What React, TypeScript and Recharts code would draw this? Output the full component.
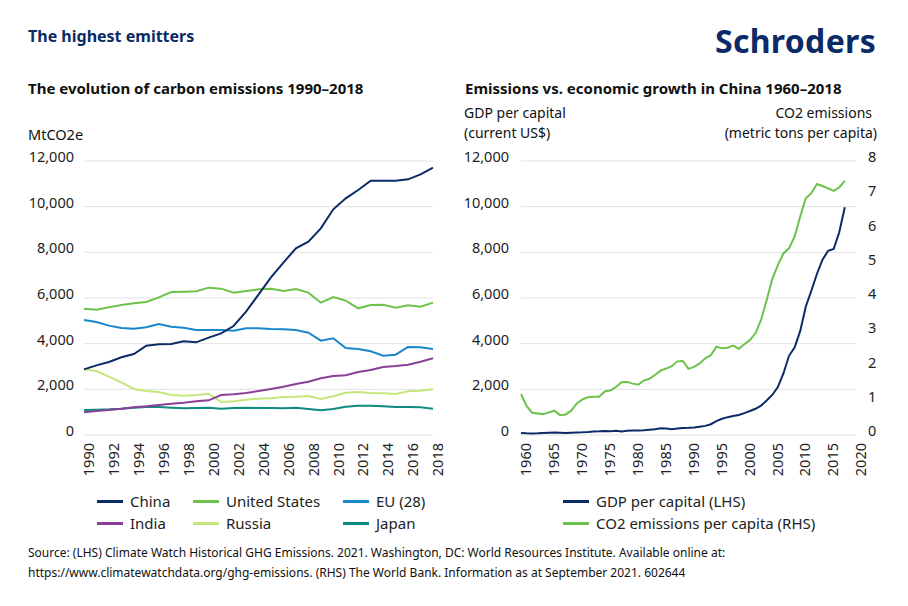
import { LineChart, Line, XAxis, YAxis, CartesianGrid } from 'recharts';

// Left chart: total emissions by country, MtCO2e
const years = [1990, 1991, 1992, 1993, 1994, 1995, 1996, 1997, 1998, 1999, 2000, 2001, 2002, 2003, 2004, 2005, 2006, 2007, 2008, 2009, 2010, 2011, 2012, 2013, 2014, 2015, 2016, 2017, 2018];
const china = [2876, 3051, 3197, 3402, 3548, 3913, 3971, 3986, 4103, 4059, 4263, 4453, 4774, 5402, 6150, 6900, 7550, 8176, 8468, 9052, 9884, 10366, 10731, 11140, 11140, 11140, 11198, 11417, 11709];
const unitedStates = [5533, 5489, 5591, 5694, 5767, 5825, 6030, 6263, 6278, 6293, 6453, 6409, 6234, 6307, 6380, 6409, 6307, 6395, 6234, 5796, 6044, 5884, 5548, 5694, 5708, 5577, 5679, 5621, 5796];
const eu28 = [5037, 4949, 4789, 4687, 4658, 4716, 4862, 4745, 4701, 4599, 4599, 4599, 4570, 4672, 4672, 4643, 4628, 4599, 4482, 4132, 4234, 3811, 3767, 3665, 3475, 3519, 3855, 3840, 3767];
const india = [993, 1051, 1095, 1153, 1212, 1256, 1314, 1372, 1416, 1475, 1518, 1752, 1781, 1840, 1927, 2015, 2117, 2234, 2336, 2482, 2584, 2613, 2759, 2847, 2978, 3022, 3080, 3212, 3358];
const russia = [2876, 2803, 2555, 2307, 2015, 1927, 1883, 1752, 1723, 1752, 1810, 1445, 1475, 1548, 1592, 1606, 1664, 1679, 1708, 1577, 1694, 1854, 1883, 1840, 1825, 1796, 1913, 1942, 2000];
const japan = [1095, 1110, 1124, 1153, 1197, 1226, 1226, 1197, 1168, 1183, 1197, 1153, 1183, 1197, 1183, 1183, 1168, 1197, 1139, 1080, 1139, 1241, 1285, 1285, 1256, 1226, 1226, 1212, 1153];
const leftXTicks = [1990, 1992, 1994, 1996, 1998, 2000, 2002, 2004, 2006, 2008, 2010, 2012, 2014, 2016, 2018];
const emissionTicks = [0, 2000, 4000, 6000, 8000, 10000, 12000];

// Right chart: China GDP per capita (LHS) and CO2 per capita (RHS)
const chinaYears = [1960, 1961, 1962, 1963, 1964, 1965, 1966, 1967, 1968, 1969, 1970, 1971, 1972, 1973, 1974, 1975, 1976, 1977, 1978, 1979, 1980, 1981, 1982, 1983, 1984, 1985, 1986, 1987, 1988, 1989, 1990, 1991, 1992, 1993, 1994, 1995, 1996, 1997, 1998, 1999, 2000, 2001, 2002, 2003, 2004, 2005, 2006, 2007, 2008, 2009, 2010, 2011, 2012, 2013, 2014, 2015, 2016, 2017, 2018];
const gdpPerCapita = [90, 76, 70, 74, 85, 98, 104, 97, 91, 100, 113, 119, 132, 157, 160, 178, 165, 185, 156, 183, 195, 197, 203, 225, 250, 294, 281, 252, 284, 311, 318, 333, 366, 400, 473, 610, 709, 782, 829, 873, 959, 1053, 1149, 1289, 1509, 1753, 2099, 2694, 3468, 3832, 4550, 5618, 6317, 7051, 7679, 8067, 8148, 8879, 9977];
const co2PerCapita = [1.19, 0.85, 0.65, 0.63, 0.61, 0.66, 0.71, 0.58, 0.6, 0.71, 0.92, 1.04, 1.1, 1.12, 1.12, 1.27, 1.3, 1.4, 1.54, 1.55, 1.5, 1.47, 1.59, 1.64, 1.75, 1.88, 1.94, 2.01, 2.15, 2.16, 1.93, 1.99, 2.09, 2.24, 2.33, 2.58, 2.53, 2.55, 2.61, 2.52, 2.65, 2.77, 2.97, 3.36, 3.94, 4.55, 4.96, 5.3, 5.45, 5.79, 6.37, 6.91, 7.06, 7.33, 7.27, 7.2, 7.13, 7.23, 7.42];
const rightXTicks = [1960, 1965, 1970, 1975, 1980, 1985, 1990, 1995, 2000, 2005, 2010, 2015, 2020];
const gdpTicks = [0, 2000, 4000, 6000, 8000, 10000, 12000];
const co2Ticks = [0, 1, 2, 3, 4, 5, 6, 7, 8];

const NAVY = '#0b2b66';
const colors = {
  china: NAVY,
  us: '#6cc24a',
  eu: '#1a86cc',
  india: '#8b3f98',
  russia: '#c6e67c',
  japan: '#0f8a80',
};

const emissionsData = years.map((year, i) => ({
  year,
  china: china[i],
  us: unitedStates[i],
  eu: eu28[i],
  india: india[i],
  russia: russia[i],
  japan: japan[i],
}));

const chinaData = chinaYears.map((year, i) => ({
  year,
  gdp: gdpPerCapita[i],
  co2: co2PerCapita[i],
}));

const fmt = (v: number) => v.toLocaleString('en-US');
const tickStyle = { fontSize: 14.5, fill: '#222', dy: -4 };
const xTickStyle = { fontSize: 14.5, fill: '#222', angle: -90, textAnchor: 'end', verticalAnchor: 'middle' } as any;

const abs = (left: number, top: number, extra: any = {}) => ({ position: 'absolute' as const, left, top, ...extra });

const LegendItem = ({ left, top, color, label }: { left: number; top: number; color: string; label: string }) => (
  <div style={abs(left, top, { display: 'flex', alignItems: 'center', fontSize: 15, lineHeight: '20px', color: '#222', whiteSpace: 'nowrap' })}>
    <span style={{ display: 'inline-block', width: 26, height: 3, background: color, marginRight: 7 }} />
    {label}
  </div>
);

const label = (left: number, top: number, text: string, extra: any = {}) => (
  <div style={abs(left, top, { fontSize: 14, lineHeight: '16px', whiteSpace: 'nowrap', ...extra })}>{text}</div>
);

const App = () => {
  return (
    <div style={abs(0, 0, { width: 908, height: 606, background: '#fff', fontFamily: "'Noto Sans', sans-serif", color: '#111', overflow: 'hidden' })}>
      <div style={abs(28, 28, { fontSize: 16, lineHeight: '16px', fontWeight: 700, color: NAVY })}>The highest emitters</div>
      <div style={abs(715, 25, { fontSize: 32, lineHeight: '32px', fontWeight: 700, color: NAVY, letterSpacing: 0.3 })}>Schroders</div>

      <div style={abs(28, 81, { fontSize: 15, lineHeight: '15px', fontWeight: 700 })}>The evolution of carbon emissions 1990–2018</div>
      {label(28, 126, 'MtCO2e', { fontSize: 14.5 })}

      <div style={abs(465, 81, { fontSize: 15, lineHeight: '15px', fontWeight: 700 })}>Emissions vs. economic growth in China 1960–2018</div>
      {label(464, 105, 'GDP per capital')}
      {label(464, 125, '(current US$)')}
      {label(700, 105, 'CO2 emissions', { width: 172, textAlign: 'right' })}
      {label(660, 125, '(metric tons per capita)', { width: 217, textAlign: 'right' })}

      {/* left chart */}
      <div style={abs(0, 0)}>
        <LineChart width={454} height={480} data={emissionsData} margin={{ top: 161, right: 21, left: 0, bottom: 0 }}>
          <CartesianGrid vertical={false} stroke="#e2e2e2" />
          <XAxis
            dataKey="year"
            type="number"
            domain={[1990, 2018]}
            ticks={leftXTicks}
            interval={0}
            height={45}
            axisLine={false}
            tickLine={false}
            tick={xTickStyle}
          />
          <YAxis
            domain={[0, 12000]}
            ticks={emissionTicks}
            width={84}
            tickMargin={4}
            axisLine={false}
            tickLine={false}
            tickFormatter={fmt}
            tick={tickStyle}
          />
          <Line dataKey="japan" stroke={colors.japan} strokeWidth={2} dot={false} isAnimationActive={false} />
          <Line dataKey="russia" stroke={colors.russia} strokeWidth={2} dot={false} isAnimationActive={false} />
          <Line dataKey="india" stroke={colors.india} strokeWidth={2} dot={false} isAnimationActive={false} />
          <Line dataKey="eu" stroke={colors.eu} strokeWidth={2} dot={false} isAnimationActive={false} />
          <Line dataKey="us" stroke={colors.us} strokeWidth={2} dot={false} isAnimationActive={false} />
          <Line dataKey="china" stroke={colors.china} strokeWidth={2} dot={false} isAnimationActive={false} />
        </LineChart>
      </div>

      <LegendItem left={97} top={491} color={colors.china} label="China" />
      <LegendItem left={193} top={491} color={colors.us} label="United States" />
      <LegendItem left={343} top={491} color={colors.eu} label="EU (28)" />
      <LegendItem left={97} top={513} color={colors.india} label="India" />
      <LegendItem left={193} top={513} color={colors.russia} label="Russia" />
      <LegendItem left={343} top={513} color={colors.japan} label="Japan" />

      {/* right chart */}
      <div style={abs(454, 0)}>
        <LineChart width={454} height={480} data={chinaData} margin={{ top: 161, right: 0, left: 0, bottom: 0 }}>
          <CartesianGrid vertical={false} stroke="#e2e2e2" yAxisId="gdp" />
          <XAxis
            dataKey="year"
            type="number"
            domain={[1960, 2020]}
            ticks={rightXTicks}
            interval={0}
            height={45}
            axisLine={false}
            tickLine={false}
            tick={xTickStyle}
          />
          <YAxis
            yAxisId="gdp"
            domain={[0, 12000]}
            ticks={gdpTicks}
            width={67}
            tickMargin={6}
            axisLine={false}
            tickLine={false}
            tickFormatter={fmt}
            tick={tickStyle}
          />
          <YAxis
            yAxisId="co2"
            orientation="right"
            domain={[0, 8]}
            ticks={co2Ticks}
            width={52}
            tickMargin={6}
            axisLine={false}
            tickLine={false}
            tick={tickStyle}
          />
          <Line yAxisId="co2" dataKey="co2" stroke={colors.us} strokeWidth={2} dot={false} isAnimationActive={false} />
          <Line yAxisId="gdp" dataKey="gdp" stroke={NAVY} strokeWidth={2} dot={false} isAnimationActive={false} />
        </LineChart>
      </div>

      <LegendItem left={563} top={491} color={NAVY} label="GDP per capital (LHS)" />
      <LegendItem left={563} top={513} color={colors.us} label="CO2 emissions per capita (RHS)" />

      <div style={abs(28, 543, { fontSize: 12, lineHeight: '20px', color: '#111' })}>
        Source: (LHS) Climate Watch Historical GHG Emissions. 2021. Washington, DC: World Resources Institute. Available online at:
        <br />
        https://www.climatewatchdata.org/ghg-emissions. (RHS) The World Bank. Information as at September 2021. 602644
      </div>
    </div>
  );
};

export default App;
